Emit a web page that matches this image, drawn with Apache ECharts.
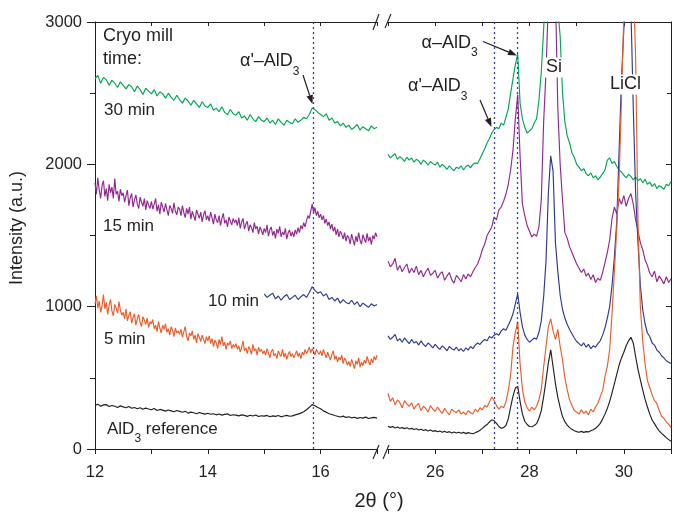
<!DOCTYPE html>
<html><head><meta charset="utf-8">
<script src="https://cdn.jsdelivr.net/npm/echarts@6/dist/echarts.min.js"></script>
<style>html,body{margin:0;padding:0;background:#fff}#c{width:674px;height:513px}</style>
</head><body><div id="c"></div>
<script>
// ---------------- DATA ----------------
// scan grids (start angle, step in degrees 2θ)
const leftScanStart = 12.0, rightScanStart = 25.0, scanStep = 0.05, denseStep = 0.025;
const blueLeftStart = 15.0;
const leftRange = [12, 17];
const rightRange = [25, 31];
const yRange = [0, 3000];
const seriesNames = ['AlD3 reference', '5 min', '10 min', '15 min', '30 min'];
const refPeaksLeft = [15.87];
const refPeaksRight = [27.25, 27.73];

// AlD3 reference (black)  – step 0.05
const blackLeft = [305,315,300,310,312,298,306,300,292,303, 296,290,299,286,292,283,290,279,287,281,
 276,285,270,278,273,266,274,268,262,270, 264,258,265,252,259,255,248,256,250,245,
 251,244,248,240,246,238,243,247,235,241, 238,233,240,236,229,237,232,239,228,234,
 231,236,227,233,229,235,226,232,236,230, 233,240,245,252,262,276,293,312,304,292,
 283,268,259,248,242,235,230,225,231,222, 227,219,223,215,221,217,224,214,219,222,217];
const blackRight = [160,152,158,148,155,146,150,143,149,140, 145,137,142,133,139,130,136,127,133,124,
 129,121,127,118,124,116,122,113,120,112, 118,110,117,108,115,111,107,114,122,132,
 145,160,172,190,205,198,180,158,146,150, 165,212,295,372,428,440,335,245,195,172,
 158,156,165,178,216,270,368,480,605,696, 578,460,365,290,228,192,168,150,138,128,
 122,118,124,117,122,120,128,135,146,160, 180,210,245,285,335,395,460,525,590,640,
 680,725,760,785,745,650,560,485,415,350, 295,245,204,178,150,128,110,95,80,66,55];

// 5 min (orange) – left part step 0.025, right part step 0.05
const orangeLeft = [
 1020,1075,990,1040,960,1005,1085,985,1030,945,1010,1050,970,935,1015,990,955,1035,975,940,
 960,915,985,900,940,965,885,925,950,870,915,945,890,860,930,905,875,920,855,895,
 880,910,845,870,825,895,850,815,870,840,880,820,845,800,860,835,790,850,815,830,
 805,840,785,825,860,790,760,815,795,830,770,800,745,810,785,755,800,770,740,790,
 760,795,740,775,720,765,745,705,770,735,790,725,750,700,745,730,760,705,735,715,
 740,700,725,680,715,760,690,710,670,720,700,665,735,690,705,660,715,685,700,670,
 690,660,705,675,640,685,700,655,670,635,690,665,650,700,645,675,630,665,685,650,
 670,640,665,690,650,675,635,680,660,700,670,690,715,675,705,685,660,700,680,665,
 690,655,700,670,640,680,650,625,665,690,630,655,610,645,625,660,600,640,620,590,
 615,580,630,600,565,620,595,640,575,610,585,625,600,650,615,590,635,605,650,625,
 660];
const orangeRight = [390,335,360,310,345,325,290,340,315,300, 325,280,305,320,270,300,285,260,305,280,
 265,295,270,250,285,260,240,280,265,255, 275,245,260,240,270,255,245,280,260,290,
 275,305,295,330,365,340,305,280,300,290, 330,410,520,720,820,895,600,420,330,290,
 265,295,275,300,345,420,578,720,860,915, 830,770,840,720,626,500,415,345,305,270,
 260,245,275,250,265,240,280,260,295,320, 368,410,508,580,700,950,1250,1550,1900,2450,
 3050,3700,4000,3800,3300,2750,1600,1000,760,600, 480,430,380,340,320,270,230,215,190,175,150];

// 10 min (blue) – left part starts at 15°, step 0.05
const blueLeft = [1090,1065,1080,1095,1055,1075,1045,1070,1085,1050,
 1065,1080,1050,1070,1085,1065,1100,1140,1115,1095,
 1105,1075,1090,1050,1065,1040,1060,1025,1050,1030,
 1020,1045,1015,1035,1000,1025,1010,995,1020,1005,1015];
const blueRight = [795,770,785,805,760,775,750,780,760,740, 770,745,755,730,760,735,720,745,730,710,
 735,715,700,725,710,690,720,705,695,715, 690,705,685,710,695,720,705,730,745,735,
 755,770,760,790,780,800,810,800,830,845, 835,870,905,950,1020,1090,960,860,800,770,
 750,765,780,772,820,900,1070,1320,1800,2060, 1950,1450,1250,1080,980,920,875,840,810,780,
 755,740,725,745,715,735,705,725,715,740, 760,800,850,920,1000,1150,1350,1600,2100,2600,
 2950,3200,3350,3100,2400,1800,1450,1150,980,880, 815,790,745,730,695,680,655,640,620,610,600];

// 15 min (purple) – left part step 0.025, right part step 0.05
const purpleLeft = [
 1870,1790,1905,1820,1760,1850,1885,1775,1830,1745,1860,1800,1840,1760,1900,1790,1810,1740,1825,1780,
 1800,1735,1780,1820,1710,1765,1795,1700,1750,1785,1720,1690,1770,1735,1705,1760,1680,1745,1715,1690,
 1740,1685,1720,1760,1670,1715,1650,1735,1700,1665,1725,1680,1640,1710,1690,1655,1730,1670,1645,1700,
 1685,1640,1710,1660,1625,1690,1650,1700,1615,1670,1640,1605,1680,1650,1620,1665,1595,1645,1675,1610,
 1640,1600,1665,1625,1580,1650,1610,1590,1640,1570,1620,1655,1585,1610,1560,1630,1600,1575,1620,1590,
 1610,1570,1625,1550,1595,1620,1545,1580,1600,1530,1575,1555,1520,1590,1545,1565,1510,1560,1535,1505,
 1550,1520,1575,1495,1540,1560,1500,1530,1480,1545,1515,1565,1490,1525,1505,1550,1475,1520,1540,1495,
 1525,1490,1540,1510,1555,1520,1570,1545,1590,1560,1605,1640,1620,1670,1720,1660,1695,1640,1670,1625,
 1650,1610,1640,1585,1615,1570,1595,1545,1580,1530,1560,1505,1545,1490,1530,1510,1475,1520,1460,1500,
 1485,1440,1510,1470,1430,1495,1455,1520,1465,1440,1505,1475,1450,1515,1460,1490,1435,1500,1475,1520,
 1490];
const purpleRight = [1320,1280,1300,1340,1255,1290,1245,1275,1300,1235, 1270,1240,1285,1225,1255,1210,1245,1270,1220,1235,
 1255,1200,1230,1245,1185,1215,1240,1190,1165,1220, 1200,1175,1225,1195,1230,1210,1245,1275,1300,1345,
 1400,1440,1500,1530,1560,1630,1610,1680,1700,1740, 1790,1860,1960,2100,2320,2490,2060,1720,1640,1570,
 1530,1490,1510,1495,1560,1750,2300,2650,3150,4300, 4400,3200,2400,2000,1750,1520,1480,1420,1380,1340,
 1300,1270,1240,1265,1215,1235,1190,1225,1170,1200, 1185,1240,1310,1380,1470,1620,1700,1650,1760,1720,
 1780,1705,1760,1795,1720,1610,1530,1450,1400,1330, 1290,1235,1210,1250,1175,1215,1190,1160,1210,1170,1195];

// 30 min (green) – step 0.05
const greenLeft = [2600,2625,2570,2610,2595,2555,2590,2570,2540,2580, 2555,2530,2560,2545,2510,2550,2525,2490,2535,2515,
 2495,2525,2480,2510,2495,2465,2500,2470,2450,2485, 2455,2430,2465,2445,2415,2450,2425,2400,2440,2410,
 2400,2425,2380,2395,2370,2405,2365,2350,2385,2355, 2345,2370,2325,2340,2310,2350,2320,2300,2335,2310,
 2300,2325,2290,2310,2280,2320,2295,2275,2310,2295, 2285,2320,2295,2310,2330,2320,2350,2395,2385,2365,
 2350,2335,2355,2310,2325,2290,2300,2270,2290,2260, 2275,2245,2260,2280,2240,2265,2250,2235,2270,2250,2260];
const greenRight = [2070,2045,2060,2075,2035,2055,2040,2020,2050,2030, 2045,2015,2035,2025,2000,2030,2015,1995,2020,2005,
 1995,2015,1980,2000,1985,1965,1990,1970,1955,1980, 1970,1990,1960,1985,1995,1975,2000,2010,2005,2040,
 2075,2110,2150,2180,2220,2245,2260,2250,2290,2275, 2330,2390,2500,2600,2700,2775,2430,2320,2260,2220,
 2235,2250,2290,2320,2450,2650,2950,3300,3700,4000, 3800,3500,3100,2900,2500,2300,2200,2150,2080,2050,
 2000,1980,1955,1970,1935,1920,1940,1905,1920,1890, 1910,1935,1960,2030,2045,2005,2020,1985,1960,1945,
 1925,1905,1930,1915,1890,1910,1885,1900,1870,1895, 1860,1875,1845,1865,1830,1850,1840,1825,1860,1850,1880];

// ---------------- STYLE ----------------
const FONT = '"Liberation Sans", Arial, Helvetica, sans-serif';
const INK = '#231f20';
const colors = ['#231f20', '#f15a29', '#2b3990', '#92278f', '#00a651'];
const dotColor = '#3b3fae';

function scan(start, step, values) {
  return values.map((v, i) => [Math.round((start + i * step) * 1000) / 1000, v]);
}

const chart = echarts.init(document.getElementById('c'), null, {renderer: 'canvas'});

function xAx(grid, range, pos) {
  const bottom = pos === 'bottom';
  return {
    type: 'value', gridIndex: grid, position: pos, min: range[0], max: range[1], interval: 1,
    axisLine: {show: true, onZero: false, lineStyle: {color: INK, width: 1}},
    axisTick: {show: true, inside: !bottom, length: bottom ? 5 : 4, lineStyle: {color: INK, width: 1}},
    axisLabel: {show: bottom, fontSize: 16.5, fontFamily: FONT, color: INK, margin: 15,
      formatter: v => (v % 2 === 0 ? String(v) : '')},
    splitLine: {show: false}
  };
}
function yAx(grid, pos) {
  const left = pos === 'left';
  return {
    type: 'value', gridIndex: grid, position: pos, min: yRange[0], max: yRange[1], interval: 1000,
    axisLine: {show: true, onZero: false, lineStyle: {color: INK, width: 1}},
    axisTick: {show: true, inside: !left, length: left ? 8 : 5, lineStyle: {color: INK, width: 1}},
    minorTick: {show: true, splitNumber: 2, length: left ? 5 : 4, lineStyle: {color: INK, width: 1}},
    axisLabel: {show: left, fontSize: 16.5, fontFamily: FONT, color: INK, margin: 13, formatter: v => String(v)},
    splitLine: {show: false}, minorSplitLine: {show: false}
  };
}

function line(name, color, data, xi, yi, marks) {
  const s = {
    name, type: 'line', data, xAxisIndex: xi, yAxisIndex: yi, color,
    showSymbol: false, symbol: 'none', clip: true, silent: true, z: 3,
    lineStyle: {color, width: 1.15}
  };
  if (marks) {
    s.markLine = {silent: true, symbol: ['none', 'none'], label: {show: false},
      lineStyle: {color: dotColor, type: [2, 3], width: 1.3},
      data: marks.map(v => ({xAxis: v}))};
  }
  return s;
}

const leftSeries = [
  scan(leftScanStart, scanStep, blackLeft),
  scan(leftScanStart, denseStep, orangeLeft),
  scan(blueLeftStart, scanStep, blueLeft),
  scan(leftScanStart, denseStep, purpleLeft),
  scan(leftScanStart, scanStep, greenLeft)
];
const rightSeries = [blackRight, orangeRight, blueRight, purpleRight, greenRight].map(v => scan(rightScanStart, scanStep, v));
const seriesList = [];
[4, 3, 2, 1, 0].forEach(k => {
  seriesList.push(line(seriesNames[k], colors[k], leftSeries[k], 0, 0, k === 0 ? refPeaksLeft : null));
  seriesList.push(line(seriesNames[k], colors[k], rightSeries[k], 2, 1, k === 0 ? refPeaksRight : null));
});

// ---------------- ANNOTATIONS ----------------
function text(x, y, str, size, extra) {
  return {type: 'text', x, y, z: 100, silent: true,
    style: Object.assign({text: str, fontSize: size, fontFamily: FONT, fill: INK,
      align: 'left', verticalAlign: 'middle', textAlign: 'left', textVerticalAlign: 'middle'}, extra || {})};
}
function subText(x, capCenter, main, sub, tail, size) {
  const rich = {
    n: {fontSize: size, lineHeight: size, verticalAlign: 'top', fontFamily: FONT, fill: INK, color: INK},
    s: {fontSize: 12, lineHeight: 12, verticalAlign: 'top', fontFamily: FONT, fill: INK, color: INK, padding: [Math.round(size * 0.72), 0, 0, 0]}
  };
  let str = '{n|' + main + '}{s|' + sub + '}';
  if (tail) str += '{n|' + tail + '}';
  return {type: 'text', x, y: capCenter - size / 2, z: 100, silent: true,
    style: {text: str, rich, fontFamily: FONT, fill: INK, align: 'left', verticalAlign: 'top', textAlign: 'left', textVerticalAlign: 'top'}};
}
function arrow(x1, y1, x2, y2) {
  const dx = x2 - x1, dy = y2 - y1, L = Math.hypot(dx, dy), ux = dx / L, uy = dy / L;
  const hl = 9, hw = 3.3;
  const bx = x2 - ux * hl, by = y2 - uy * hl;
  return [
    {type: 'line', z: 100, silent: true, shape: {x1, y1, x2: bx, y2: by}, style: {stroke: INK, lineWidth: 1.2}},
    {type: 'polygon', z: 100, silent: true, shape: {points: [[x2, y2], [bx - uy * hw, by + ux * hw], [bx + uy * hw, by - ux * hw]]}, style: {fill: INK}}
  ];
}
function slash(x1, y1, x2, y2) {
  return {type: 'line', z: 100, silent: true, shape: {x1, y1, x2, y2}, style: {stroke: INK, lineWidth: 1.1}};
}

const graphics = [
  text(103, 36, 'Cryo mill', 18),
  text(103, 59, 'time:', 18),
  text(104, 110.5, '30 min', 17),
  text(103, 226, '15 min', 17),
  text(208, 301.5, '10 min', 17),
  text(104, 339, '5 min', 17),
  subText(107, 429.5, 'AlD', '3', ' reference', 17),
  subText(240, 61.5, "\u03b1'\u2013AlD", '3', null, 18),
  subText(421.5, 43, '\u03b1\u2013AlD', '3', null, 18),
  subText(408, 86.5, "\u03b1'\u2013AlD", '3', null, 18),
  text(545, 67.5, 'Si', 18, {backgroundColor: '#fff', padding: [1, 1, 1, 1]}),
  text(609, 84.5, 'LiCl', 18, {backgroundColor: '#fff', padding: [1, 1, 1, 1]}),
  ...arrow(303, 75, 312.5, 104),
  ...arrow(483, 41.5, 517, 55.5),
  ...arrow(480, 100, 491.5, 127),
  slash(373, 30, 379, 14), slash(385, 28, 391, 14),
  slash(373, 459, 379, 445), slash(383, 459, 389, 445),
  text(379, 501, '2\u03b8 (\u00b0)', 20, {align: 'center', textAlign: 'center'}),
  {type: 'text', x: 17, y: 228, rotation: Math.PI / 2, z: 100, silent: true,
   style: {text: 'Intensity (a.u.)', fontSize: 18, fontFamily: FONT, fill: INK,
     align: 'center', verticalAlign: 'middle', textAlign: 'center', textVerticalAlign: 'middle'}}
];

chart.setOption({
  animation: false,
  backgroundColor: '#fff',
  grid: [
    {left: 95, top: 22, width: 282, height: 427, containLabel: false},
    {left: 388, top: 22, width: 285, height: 427, containLabel: false}
  ],
  xAxis: [xAx(0, leftRange, 'bottom'), xAx(0, leftRange, 'top'), xAx(1, rightRange, 'bottom'), xAx(1, rightRange, 'top')],
  yAxis: [yAx(0, 'left'), yAx(1, 'right')],
  series: seriesList,
  graphic: graphics
});
</script></body></html>
